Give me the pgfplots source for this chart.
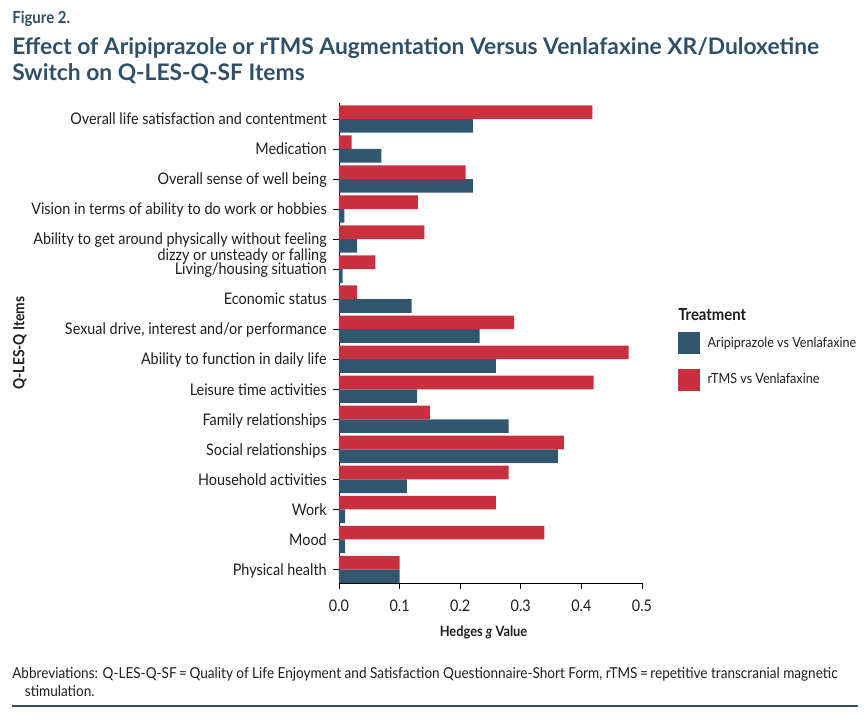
\documentclass[border=0pt]{standalone}
\usepackage{fontspec}
\setmainfont{Lato}
\newfontfamily\cond{Lato}[FakeStretch=0.9]
\usepackage{pgfplots}
\pgfplotsset{compat=1.18}
\definecolor{ariblue}{HTML}{33566F}
\definecolor{tmsred}{HTML}{C8303F}
\definecolor{titleblue}{HTML}{2F5068}
\definecolor{txt}{HTML}{1E1E1E}
\begin{document}
\begin{tikzpicture}
% page is 865x719 px, 1 px = 0.75pt
\path[use as bounding box] (0,0) rectangle (648.75pt,-539.25pt);
\begin{axis}[
  at={(254.25pt,-437.25pt)}, anchor=south west,
  scale only axis, width=227.25pt, height=360pt,
  xbar, bar width=0.455,
  xmin=0, xmax=0.5, ymin=-0.45, ymax=15.53,
  axis x line=bottom, axis y line=left,
  axis line style={-, black, line width=0.6pt},
  tick align=outside,
  major tick length=4.2pt,
  tick style={black, line width=0.6pt},
  xtick={0,0.1,0.2,0.3,0.4,0.5},
  /pgf/number format/.cd, fixed, fixed zerofill, precision=1, assume math mode=true, /pgfplots/.cd,
  ytick={0,...,15},
  yticklabels={Physical health, Mood, Work, Household activities,
    Social relationships, Family relationships, Leisure time activities,
    Ability to function in daily life, {Sexual drive, interest and/or performance},
    Economic status, Living/housing situation,
    {\begin{tabular}[t]{@{}r@{}}Ability to get around physically without feeling\\dizzy or unsteady or falling\end{tabular}},
    Vision in terms of ability to do work or hobbies, Overall sense of well being,
    Medication, Overall life satisfaction and contentment},
  yticklabel style={font=\cond\fontsize{12}{10.8}\selectfont, text=txt, anchor=base east, inner sep=0pt, xshift=-4.8pt, yshift=-4.3pt},
  xticklabel style={font=\cond\fontsize{12}{12}\selectfont, text=txt, inner sep=0pt, yshift=-8pt},
  xlabel={\textbf{Hedges \textit{g} Value}},
  xlabel style={font=\cond\fontsize{10.7}{12}\selectfont, text=txt, at={(axis description cs:0.477,-0.104)}, anchor=center},
  ylabel={\textbf{Q-LES-Q Items}},
  ylabel style={font=\cond\fontsize{11.5}{12}\selectfont, text=txt, at={(axis description cs:-1.053,0.5)}, anchor=center},
  legend style={at={(axis description cs:1.119,0.5235)}, anchor=north west,
    draw=none, fill=none, inner sep=0pt, row sep=11pt,
    font=\cond\fontsize{10.5}{11}\selectfont, text=txt,
    nodes={inner sep=0pt},
    /tikz/every odd column/.append style={column sep=5.5pt}},
  legend cell align=left,
  legend image code/.code={\fill[#1] (0pt,-8.25pt) rectangle (16.5pt,8.25pt);},
]
\addplot[fill=ariblue, draw=none, bar shift=-0.2275] coordinates {
  (0.100,0) (0.010,1) (0.010,2) (0.112,3) (0.361,4) (0.280,5) (0.129,6) (0.259,7)
  (0.232,8) (0.120,9) (0.006,10) (0.030,11) (0.009,12) (0.221,13) (0.070,14) (0.221,15)
};
\addplot[fill=tmsred, draw=none, bar shift=0.2275] coordinates {
  (0.100,0) (0.339,1) (0.259,2) (0.280,3) (0.371,4) (0.150,5) (0.420,6) (0.478,7)
  (0.289,8) (0.030,9) (0.060,10) (0.141,11) (0.130,12) (0.209,13) (0.021,14) (0.418,15)
};
\legend{Aripiprazole vs Venlafaxine, rTMS vs Venlafaxine}
\end{axis}
% titles
\node[anchor=base west, inner sep=0pt, text=titleblue, font=\cond\bfseries\fontsize{12.5}{14}\selectfont] at (9pt,-17.25pt) {Figure 2.};
\node[anchor=base west, inner sep=0pt, text=titleblue, font=\bfseries\fontsize{17.1}{19.5}\selectfont] at (9pt,-40.5pt)
  {Effect of Aripiprazole or rTMS Augmentation Versus Venlafaxine XR/Duloxetine};
\node[anchor=base west, inner sep=0pt, text=titleblue, font=\bfseries\fontsize{17.1}{19.5}\selectfont] at (9pt,-60pt)
  {Switch on Q-LES-Q-SF Items};
\node[anchor=base west, inner sep=0pt, text=txt, font=\cond\bfseries\fontsize{12.4}{12}\selectfont] at (508.5pt,-240.5pt) {Treatment};
% footnote
\node[anchor=base west, inner sep=0pt, text=txt, font=\cond\fontsize{11.3}{13.5}\selectfont] at (9pt,-508.5pt)
  {Abbreviations: Q-LES-Q-SF\,=\,Quality of Life Enjoyment and Satisfaction Questionnaire-Short Form, rTMS\,=\,repetitive transcranial magnetic};
\node[anchor=base west, inner sep=0pt, text=txt, font=\cond\fontsize{11.3}{13.5}\selectfont] at (18.5pt,-522pt) {stimulation.};
\draw[titleblue, line width=1pt] (9pt,-529.5pt) -- (643.5pt,-529.5pt);
\end{tikzpicture}
\end{document}
